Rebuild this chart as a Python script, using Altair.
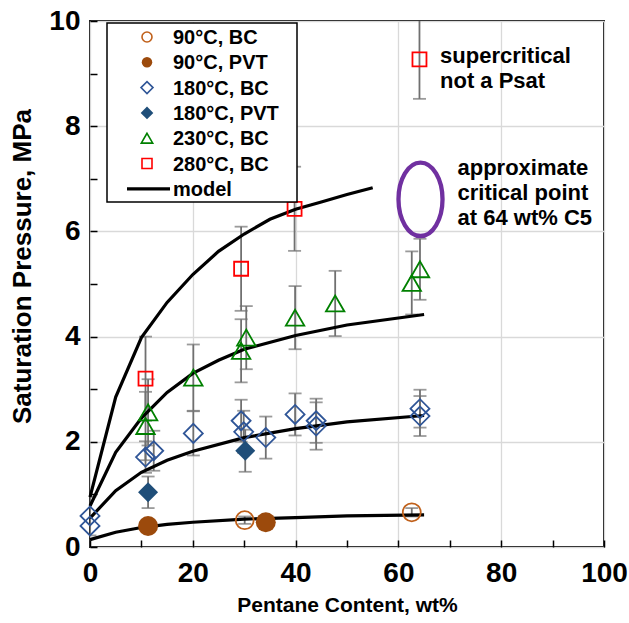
import altair as alt
import pandas as pd

FONT = "Liberation Sans"

# ---------------- data ----------------
# 90 C, bubble-cell (open circles)
bc90_x = [30.1, 62.6]
bc90_y = [0.51, 0.66]
bc90_err = [0.07, 0.08]
# 90 C, PVT (filled circles)
pvt90_x = [11.3, 34.2]
pvt90_y = [0.40, 0.47]
pvt90_err = [0.0, 0.0]
# 180 C, BC (open diamonds)
bc180_x = [0.0, 0.0, 10.8, 12.4, 20.1, 29.4, 29.9, 34.2, 39.9, 44.0, 44.0, 64.2, 64.2]
bc180_y = [0.59, 0.40, 1.71, 1.83, 2.16, 2.40, 2.19, 2.08, 2.52, 2.40, 2.30, 2.63, 2.49]
bc180_err = [0.37, 0.0, 0.30, 0.38, 0.42, 0.40, 0.40, 0.40, 0.40, 0.42, 0.45, 0.36, 0.38]
# 180 C, PVT (filled diamonds)
pvt180_x = [11.3, 30.2]
pvt180_y = [1.04, 1.83]
pvt180_err = [0.30, 0.40]
# 230 C, BC (open triangles)
bc230_x = [11.3, 10.8, 20.1, 29.4, 30.4, 39.9, 47.7, 62.6, 64.2]
bc230_y = [2.56, 2.30, 3.22, 3.73, 3.98, 4.36, 4.63, 5.02, 5.28]
bc230_err = [0.63, 0.65, 0.63, 0.60, 0.60, 0.60, 0.62, 0.60, 0.58]
# 280 C, BC (open squares)
bc280_x = [10.8, 29.4, 39.8, 64.1]
bc280_y = [3.20, 5.29, 6.43, 9.27]
bc280_err = [0.80, 0.80, 0.80, 0.75]

# model curves
model90_x = [0, 5, 10, 15, 20, 30, 40, 50, 65]
model90_y = [0.14, 0.28, 0.37, 0.43, 0.47, 0.53, 0.56, 0.59, 0.61]
model180_x = [0, 5, 10, 15, 20, 30, 40, 50, 65]
model180_y = [0.55, 1.07, 1.42, 1.65, 1.82, 2.08, 2.25, 2.38, 2.50]
model230_x = [0, 5, 10, 15, 20, 25, 30, 40, 50, 65]
model230_y = [0.78, 1.80, 2.45, 2.94, 3.30, 3.55, 3.76, 4.02, 4.22, 4.42]
model280_x = [0, 5, 10, 15, 20, 25, 30, 35, 40, 45, 50, 55]
model280_y = [0.95, 2.85, 3.98, 4.65, 5.18, 5.62, 5.95, 6.23, 6.42, 6.56, 6.70, 6.83]

legend_labels = ["90°C, BC", "90°C, PVT", "180°C, BC", "180°C, PVT",
                 "230°C, BC", "280°C, BC", "model"]

crit_x = 64.3
crit_y = 6.61

# ---------------- styles ----------------
BROWN_O = "#C0601A"
BROWN_F = "#9C4A0C"
BLUE_O = "#2F5597"
BLUE_F = "#1F4E79"
GREEN = "#008000"
RED = "#FF0000"
ERRC = "#707070"

series = [
    # label, xs, ys, errs, shape, size, legend size, color, filled
    (legend_labels[0], bc90_x, bc90_y, bc90_err, "circle", 324, 100, BROWN_O, False),
    (legend_labels[1], pvt90_x, pvt90_y, pvt90_err, "circle", 400, 110, BROWN_F, True),
    (legend_labels[2], bc180_x, bc180_y, bc180_err, "diamond", 361, 144, BLUE_O, False),
    (legend_labels[3], pvt180_x, pvt180_y, pvt180_err, "diamond", 400, 160, BLUE_F, True),
    (legend_labels[4], bc230_x, bc230_y, bc230_err, "triangle-up", 340, 130, GREEN, False),
    (legend_labels[5], bc280_x, bc280_y, bc280_err, "square", 196, 100, RED, False),
]

xscale = alt.Scale(domain=[0, 100], nice=False, zero=False)
yscale = alt.Scale(domain=[0, 10], nice=False, zero=False)

xaxis = alt.Axis(
    values=list(range(0, 101, 5)),
    labelExpr="datum.value % 20 === 0 ? datum.label : ''",
    gridOpacity={"condition": {"test": "datum.value % 20 === 0", "value": 1}, "value": 0},
    grid=True, gridColor="#d9d9d9", gridWidth=1.3,
    domain=False, ticks=True, tickColor="black", tickWidth=1.5, tickSize=7,
    offset=-7, labelPadding=12, labelFlush=False, labelOverlap=False,
    labelFont=FONT, labelFontSize=28, labelFontWeight="bold", labelColor="black",
    title="Pentane Content, wt%", titleFont=FONT, titleFontSize=21,
    titleFontWeight="bold", titleColor="black",
    titleX=257, titleY=65, titleBaseline="middle", titleAlign="center",
)
yaxis = alt.Axis(
    values=[i * 0.5 for i in range(21)],
    labelExpr="datum.value % 2 === 0 ? datum.label : ''",
    gridOpacity={"condition": {"test": "datum.value % 2 === 0", "value": 1}, "value": 0},
    grid=True, gridColor="#d9d9d9", gridWidth=1.3,
    domain=False, ticks=True, tickColor="black", tickWidth=1.5, tickSize=7,
    offset=-7, labelPadding=10, labelFlush=False, labelOverlap=False,
    labelFont=FONT, labelFontSize=28, labelFontWeight="bold", labelColor="black",
    title="Saturation Pressure, MPa", titleFont=FONT, titleFontSize=26,
    titleFontWeight="bold", titleColor="black", titleAngle=270,
    titleX=-75, titleY=245, titleBaseline="middle", titleAlign="center",
)

def X(field="x"):
    return alt.X(f"{field}:Q", scale=xscale, axis=xaxis)

def Y(field="y"):
    return alt.Y(f"{field}:Q", scale=yscale, axis=yaxis)

# error-bar table
rows = []
for lab, xs, ys, es, *_ in series:
    for xv, yv, ev in zip(xs, ys, es):
        if ev > 0:
            rows.append({"x": xv, "lo": yv - ev, "hi": yv + ev})
err_df = pd.DataFrame(rows)

layers = []
layers.append(alt.Chart(err_df).mark_rule(color=ERRC, strokeWidth=1.8, clip=True)
              .encode(x=X(), y=Y("lo"), y2="hi:Q"))
layers.append(alt.Chart(err_df).mark_tick(orient="horizontal", size=13, thickness=1.8,
                                          color=ERRC, clip=True)
              .encode(x=X(), y=Y("lo")))
layers.append(alt.Chart(err_df).mark_tick(orient="horizontal", size=13, thickness=1.8,
                                          color=ERRC, clip=True)
              .encode(x=X(), y=Y("hi")))

# model curves
mrows = []
for name, xs, ys in [("90", model90_x, model90_y), ("180", model180_x, model180_y),
                     ("230", model230_x, model230_y), ("280", model280_x, model280_y)]:
    for xv, yv in zip(xs, ys):
        mrows.append({"x": xv, "y": yv, "T": name})
model_df = pd.DataFrame(mrows)
layers.append(alt.Chart(model_df).mark_line(color="black", strokeWidth=3.2)
              .encode(x=X(), y=Y(), detail="T:N", order="x:Q"))

# data points
for lab, xs, ys, es, shape, size, lsize, col, filled in series:
    df = pd.DataFrame({"x": xs, "y": ys})
    if filled:
        mk = alt.Chart(df).mark_point(shape=shape, size=size, filled=True, color=col, opacity=1)
    else:
        mk = alt.Chart(df).mark_point(shape=shape, size=size, filled=False, color=col,
                                      strokeWidth=1.8, opacity=1)
    layers.append(mk.encode(x=X(), y=Y()))

# critical-point ellipse
one = pd.DataFrame({"a": [0]})
layers.append(alt.Chart(one).mark_point(
    shape="M0,-1 A0.6,1 0 1,1 0,1 A0.6,1 0 1,1 0,-1 Z",
    size=5390, filled=False, color="#7030A0", strokeWidth=4.3, opacity=1)
    .encode(x=alt.datum(crit_x, scale=xscale), y=alt.datum(crit_y, scale=yscale)))

# annotations
layers.append(alt.Chart(one).mark_text(
    text=["supercritical", "not a Psat"], align="left", baseline="alphabetic",
    font=FONT, fontSize=22, fontWeight="bold", color="black", lineHeight=25)
    .encode(x=alt.datum(68.1), y=alt.datum(9.2)))
layers.append(alt.Chart(one).mark_text(
    text=["approximate", "critical point", "at 64 wt% C5"], align="left",
    baseline="alphabetic", font=FONT, fontSize=22, fontWeight="bold",
    color="black", lineHeight=25)
    .encode(x=alt.datum(71.5), y=alt.datum(7.07)))

# legend (manual, boxed)
layers.append(alt.Chart(one).mark_rect(fill="white", stroke="black", strokeWidth=1.5)
              .encode(x=alt.value(17), x2=alt.value(207), y=alt.value(2), y2=alt.value(181)))
row_y = [16 + 25.3 * i for i in range(7)]
for i, (lab, xs, ys, es, shape, size, lsize, col, filled) in enumerate(series):
    if filled:
        mk = alt.Chart(one).mark_point(shape=shape, size=lsize, filled=True, color=col, opacity=1)
    else:
        mk = alt.Chart(one).mark_point(shape=shape, size=lsize, filled=False, color=col,
                                       strokeWidth=1.6, opacity=1)
    layers.append(mk.encode(x=alt.value(57), y=alt.value(row_y[i])))
layers.append(alt.Chart(one).mark_rule(color="black", strokeWidth=3.2)
              .encode(x=alt.value(37), x2=alt.value(80), y=alt.value(row_y[6])))
for i, lab in enumerate(legend_labels):
    layers.append(alt.Chart(one).mark_text(
        text=lab, align="left", baseline="middle", font=FONT, fontSize=20,
        fontWeight="bold", color="black")
        .encode(x=alt.value(83), y=alt.value(row_y[i] + 1)))

chart = alt.layer(*layers).properties(
    width=514, height=526, autosize="none",
    padding={"left": 90, "top": 21, "right": 25, "bottom": 76},
    background="white",
).configure_view(stroke="black", strokeWidth=1.8)

chart.save("out.html", embed_options={"renderer": "svg", "actions": False})
